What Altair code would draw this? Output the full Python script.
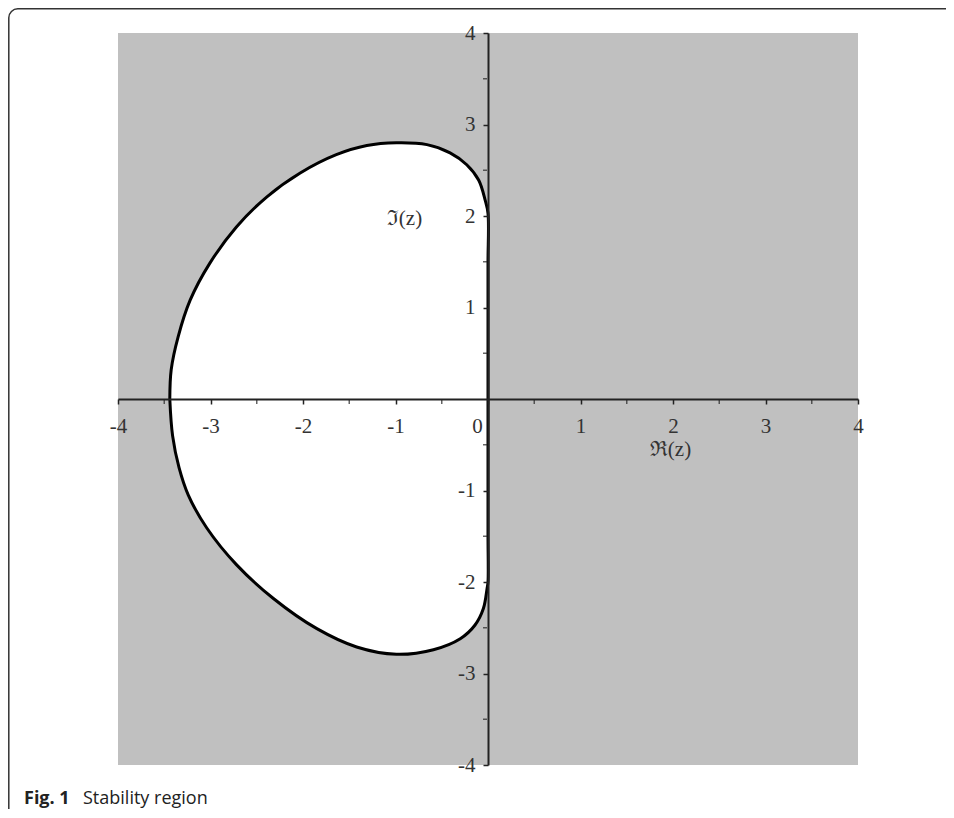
import altair as alt
import pandas as pd

# ---- data ----
upper_x = [-3.44, -3.425, -3.35, -3.22, -3.01, -2.72, -2.39, -2.03, -1.64, -1.31, -0.99, -0.66, -0.41, -0.23, -0.10, -0.03, 0.0, 0.0, 0.0, 0.0, 0.0]
upper_y = [0.0, 0.32, 0.68, 1.08, 1.48, 1.88, 2.21, 2.47, 2.67, 2.77, 2.80, 2.78, 2.69, 2.56, 2.39, 2.17, 2.03, 1.5, 1.0, 0.5, 0.0]
lower_x = [0.0, 0.0, 0.0, 0.0, -0.01, -0.05, -0.14, -0.30, -0.59, -0.99, -1.42, -1.85, -2.32, -2.72, -3.04, -3.24, -3.34, -3.41, -3.44]
lower_y = [-0.5, -1.0, -1.5, -2.0, -2.07, -2.29, -2.47, -2.62, -2.74, -2.79, -2.71, -2.51, -2.18, -1.81, -1.41, -1.05, -0.75, -0.40, 0.0]

axis_min, axis_max = -4, 4
x_major = [-4, -3, -2, -1, 0, 1, 2, 3, 4]
y_major = [-4, -3, -2, -1, 1, 2, 3, 4]
minor = [-3.5, -2.5, -1.5, -0.5, 0.5, 1.5, 2.5, 3.5]
x_title = "\u211c(z)"
y_title = "\u2111(z)"
caption_bold = "Fig. 1"
caption_text = "Stability region"

W, H = 740, 732

region = pd.DataFrame({
    "x": upper_x + lower_x,
    "y": upper_y + lower_y,
})
region["order"] = range(len(region))

bgdf = pd.DataFrame({"x0": [axis_min], "x1": [axis_max], "y0": [axis_min], "y1": [axis_max]})

xs = alt.Scale(domain=[axis_min, axis_max], nice=False, zero=False)
ys = alt.Scale(domain=[axis_min, axis_max], nice=False, zero=False)

serif = "Liberation Serif"

xaxis = alt.Axis(
    values=x_major, offset=-(H / 2), zindex=1, grid=False,
    domainColor="#222", domainWidth=2, tickColor="#222", tickWidth=1.5, tickSize=5,
    labelFont=serif, labelFontSize=21, labelColor="#333", labelPadding=11,
    labelFlush=False, labelOverlap=False,
    labelExpr="'' + datum.value",
    labelOffset=alt.expr("datum.value == 0 ? -11 : 0"),
    title=x_title, titleFont=serif, titleFontSize=21, titleFontWeight="normal", titleColor="#333",
    titleX=552, titleY=50, titleBaseline="middle", titleAlign="center",
)
yaxis = alt.Axis(
    values=y_major, offset=-(W / 2), zindex=1, grid=False,
    domainColor="#222", domainWidth=2, tickColor="#222", tickWidth=1.5, tickSize=5,
    labelFont=serif, labelFontSize=21, labelColor="#333", labelPadding=8,
    labelFlush=False, labelOverlap=False,
    labelExpr="'' + datum.value",
    title=y_title, titleFont=serif, titleFontSize=21, titleFontWeight="normal", titleColor="#333",
    titleAngle=0, titleX=-84, titleY=185, titleBaseline="middle", titleAlign="center",
)

bg = alt.Chart(bgdf).mark_rect(color="#c0c0c0").encode(
    x=alt.X("x0:Q", scale=xs, axis=xaxis),
    x2="x1:Q",
    y=alt.Y("y0:Q", scale=ys, axis=yaxis),
    y2="y1:Q",
)

poly = alt.Chart(region).mark_line(
    fill="white", stroke="black", strokeWidth=3, interpolate="catmull-rom"
).encode(
    x=alt.X("x:Q", scale=xs),
    y=alt.Y("y:Q", scale=ys),
    order="order:Q",
)

mx = alt.Chart(pd.DataFrame({"m": minor, "z": [0] * len(minor)})).mark_tick(
    color="#222", thickness=1.5, size=4, yOffset=3, orient="vertical"
).encode(x=alt.X("m:Q", scale=xs), y=alt.Y("z:Q", scale=ys))

my = alt.Chart(pd.DataFrame({"m": minor, "z": [0] * len(minor)})).mark_tick(
    color="#222", thickness=1.5, size=4, xOffset=-3, orient="horizontal"
).encode(y=alt.Y("m:Q", scale=ys), x=alt.X("z:Q", scale=xs))

one = pd.DataFrame({"t": [caption_bold], "s": [caption_text]})
frame = alt.Chart(one).mark_rect(
    filled=False, stroke="#333", strokeWidth=1.5, cornerRadius=9
).encode(
    x=alt.value(-109.2), x2=alt.value(W + 300),
    y=alt.value(-24.2), y2=alt.value(H + 300),
)
cap1 = alt.Chart(one).mark_text(
    align="left", baseline="alphabetic", font="Open Sans", fontSize=18, fontWeight="bold", color="#222"
).encode(x=alt.value(-94), y=alt.value(771), text="t:N")
cap2 = alt.Chart(one).mark_text(
    align="left", baseline="alphabetic", font="Open Sans", fontSize=18, color="#222"
).encode(x=alt.value(-35), y=alt.value(771), text="s:N")

chart = alt.layer(bg, poly, mx, my, frame, cap1, cap2).properties(
    width=W, height=H,
    autosize=alt.AutoSizeParams(type="none"),
    padding={"left": 110, "top": 25, "right": 88, "bottom": 44},
    background="white",
).configure_view(stroke=None)

chart.save("out.html", embed_options={"renderer": "svg", "actions": False})
